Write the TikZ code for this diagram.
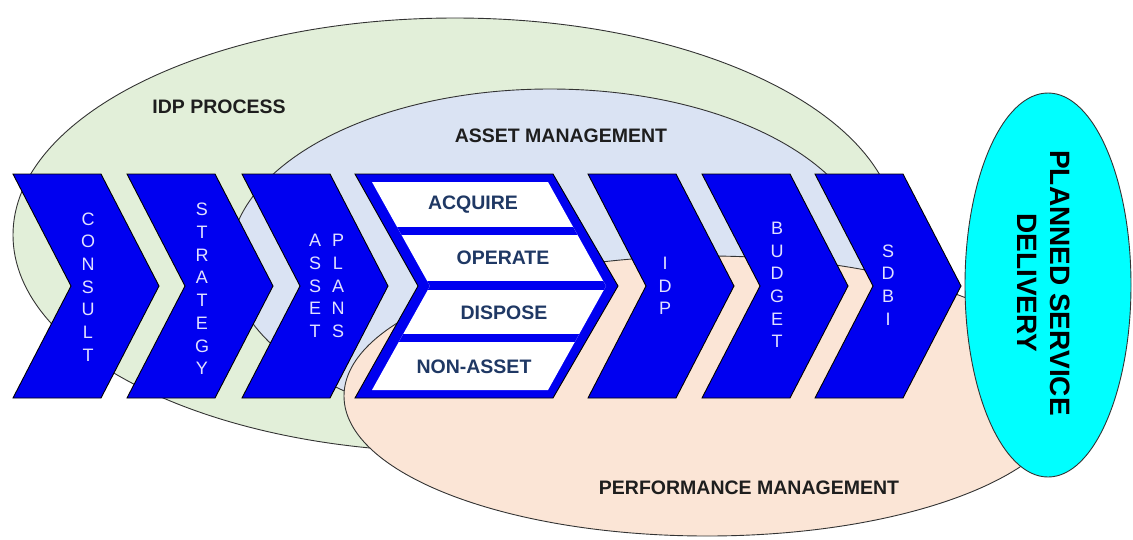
\documentclass[tikz,border=0pt]{standalone}
\usepackage{fontspec}
\setmainfont{Liberation Sans}
\usetikzlibrary{shapes.geometric}

\definecolor{idpgreen}{RGB}{226,239,217}
\definecolor{assetblue}{RGB}{218,227,243}
\definecolor{perfpeach}{RGB}{251,229,214}
\definecolor{chevblue}{RGB}{0,0,240}
\definecolor{chevtext}{RGB}{225,225,255}
\definecolor{navytext}{RGB}{31,56,100}
\definecolor{labeltext}{RGB}{30,30,30}
\definecolor{deliverycyan}{RGB}{0,255,255}

\tikzset{
  zone/.style={ellipse, draw=black!80, line width=0.9pt, inner sep=0},
  chevshape/.style={fill=chevblue, draw=black, line width=0.9pt, line join=miter},
  chevletters/.style={text=chevtext, font=\fontsize{18}{22.7}\selectfont, align=center, inner sep=0},
  zonelabel/.style={text=labeltext, font=\bfseries\fontsize{19.5}{22}\selectfont, inner sep=0},
  steplabel/.style={text=navytext, font=\bfseries\fontsize{19.5}{22}\selectfont, inner sep=0},
}

% one process chevron: #1 = left x of its top edge
\newcommand\chevronat[1]{%
  \draw[chevshape] (#1,174) -- ++(88,0) -- ++(58,112) -- ++(-58,112)
    -- ++(-88,0) -- ++(58,-112) -- cycle;}

\begin{document}
\begin{tikzpicture}[x=1pt,y=-1pt]
  \useasboundingbox (0,0) rectangle (1133,539);

  % overlapping management zones
  \node[zone, fill=idpgreen,  minimum width=884, minimum height=434] (idpzone)   at (455,235) {};
  \node[zone, fill=assetblue, minimum width=640, minimum height=342] (assetzone) at (550,260) {};
  \node[zone, fill=perfpeach, minimum width=726, minimum height=280] (perfzone)  at (707,396) {};

  \node[zonelabel] (idplabel)   at (219,107) {IDP PROCESS};
  \node[zonelabel] (assetlabel) at (561,136) {ASSET MANAGEMENT};
  \node[zonelabel] (perflabel)  at (749,488) {PERFORMANCE MANAGEMENT};

  % process chevrons
  \chevronat{13}
  \chevronat{127}
  \chevronat{242}
  \chevronat{588}
  \chevronat{702}
  \chevronat{815}

  \node[chevletters] (consult)  at (88,287)  {C\\O\\N\\S\\U\\L\\T};
  \node[chevletters] (strategy) at (202,289) {S\\T\\R\\A\\T\\E\\G\\Y};
  \node[chevletters] (asset)    at (315,286) {A\\S\\S\\E\\T};
  \node[chevletters] (plans)    at (338,286) {P\\L\\A\\N\\S};
  \node[chevletters] (idp)      at (665,286) {I\\D\\P};
  \node[chevletters] (budget)   at (777,285) {B\\U\\D\\G\\E\\T};
  \node[chevletters] (sdbi)     at (888,285) {S\\D\\B\\I};

  % wide chevron holding the asset life-cycle steps
  \draw[chevshape] (355,174) -- (553,174) -- (618,286) -- (553,398)
    -- (355,398) -- (418,286) -- cycle;
  \begin{scope}
    \clip (372,182) -- (548,182) -- (606,286) -- (548,390) -- (372,390) -- (430,286) -- cycle;
    \fill[white] (350,170) rectangle (630,400);
    \fill[chevblue] (350,227) rectangle (630,235);
    \fill[chevblue] (350,281) rectangle (630,290);
    \fill[chevblue] (350,334) rectangle (630,342);
  \end{scope}

  \node[steplabel] (acquire)  at (473,205) {ACQUIRE};
  \node[steplabel] (operate)  at (503,258) {OPERATE};
  \node[steplabel] (dispose)  at (504,313) {DISPOSE};
  \node[steplabel] (nonasset) at (474,367) {NON-ASSET};

  % outcome
  \node[zone, fill=deliverycyan, minimum width=166, minimum height=384] (delivery) at (1048,285) {};
  \node[rotate=-90, align=center, inner sep=0, text=black,
        font=\bfseries\fontsize{28}{33}\selectfont] (deliverytext) at (1044,283)
        {PLANNED SERVICE\\DELIVERY};
\end{tikzpicture}
\end{document}
